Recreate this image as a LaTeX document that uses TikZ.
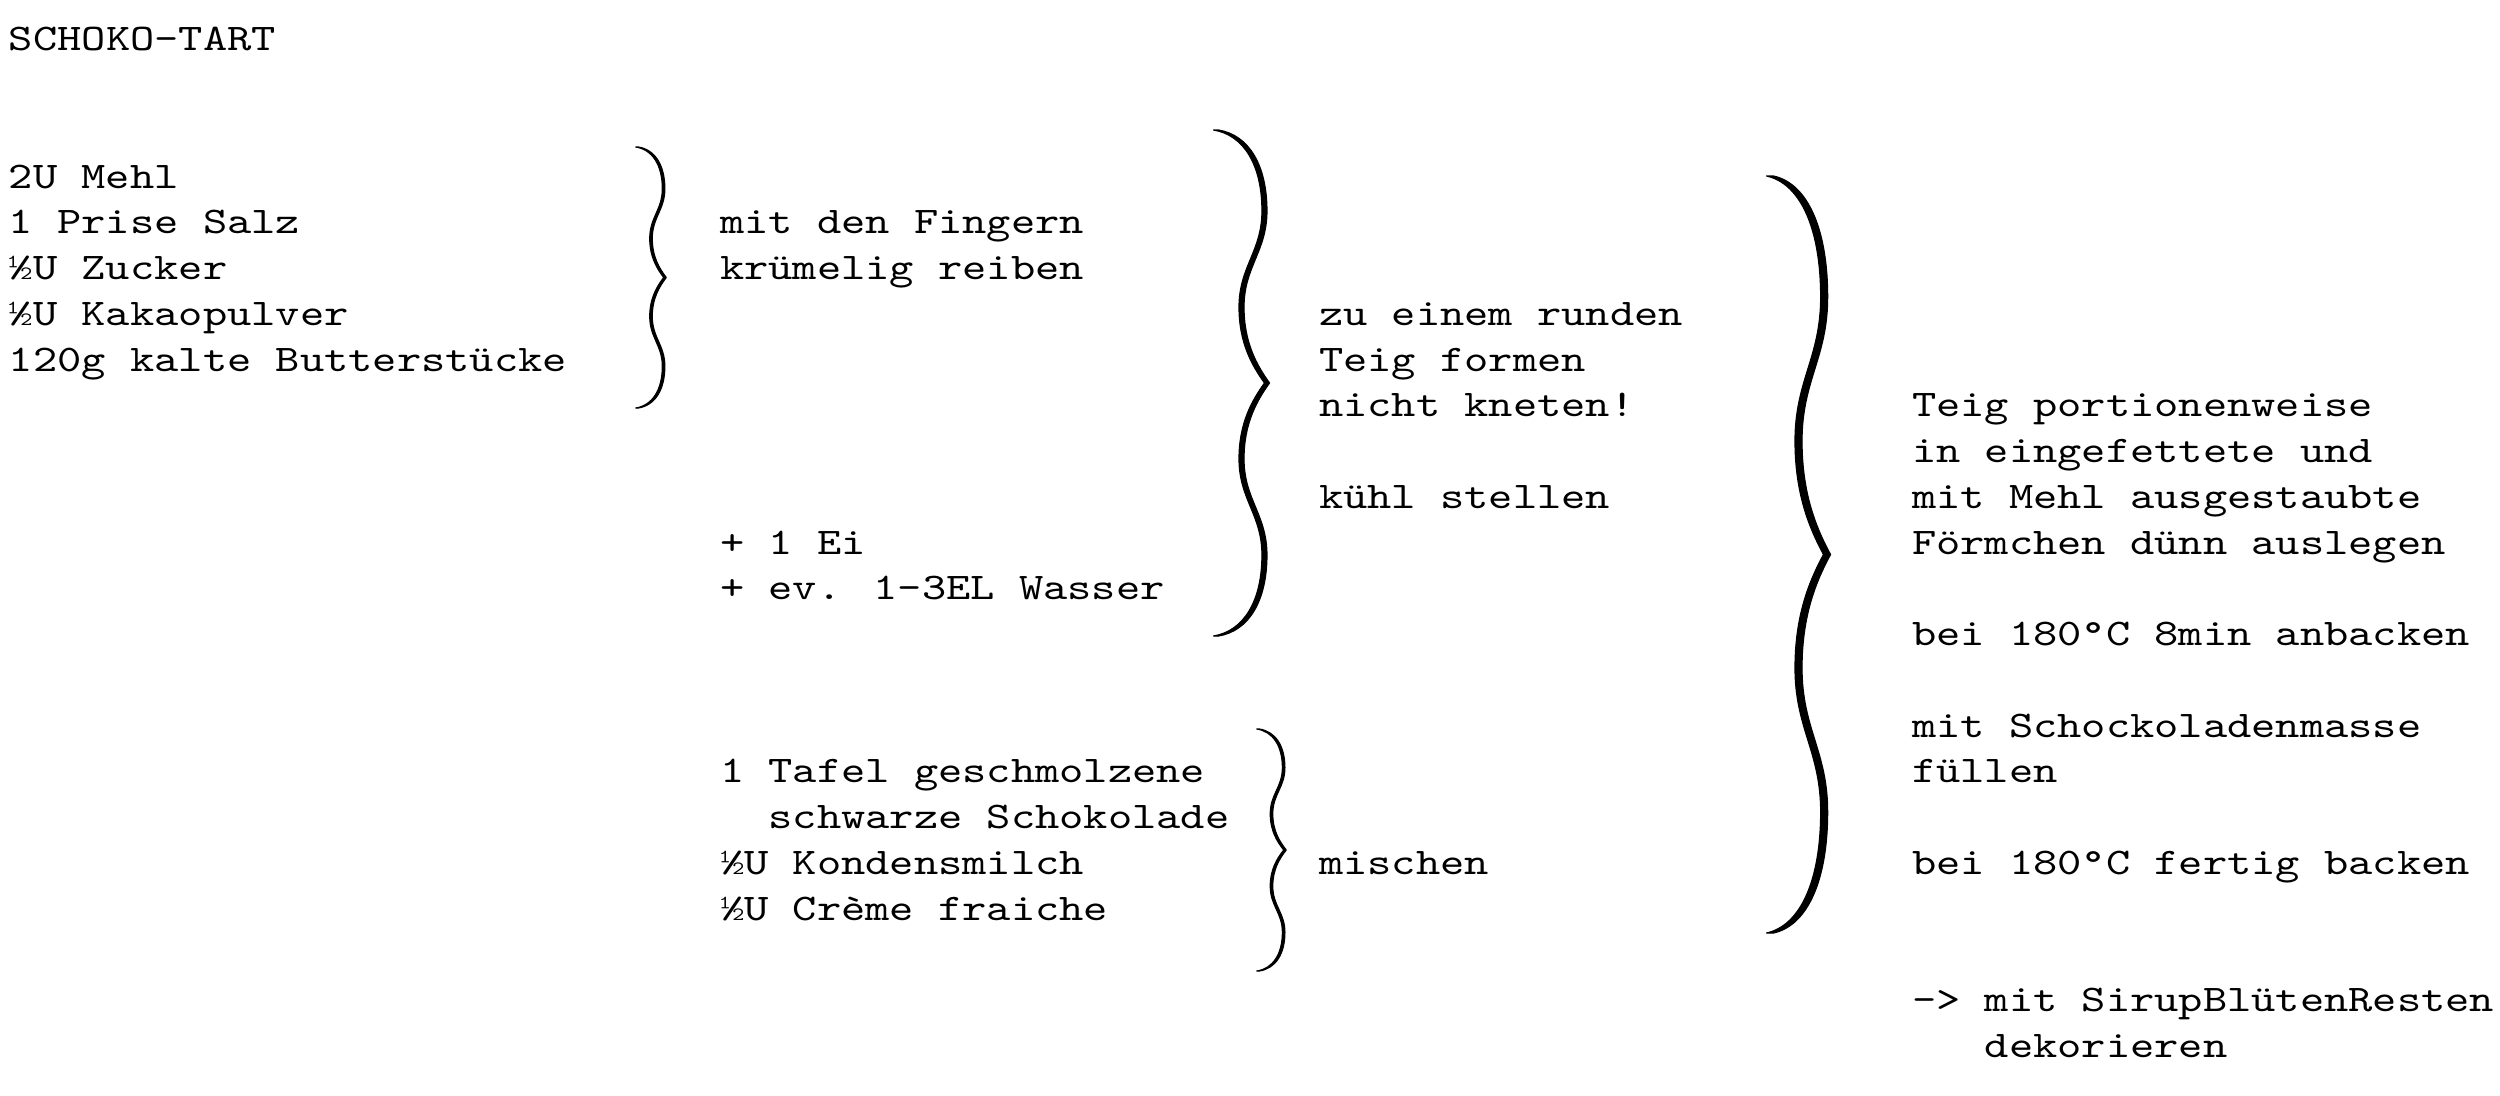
\documentclass[tikz,border=0pt]{standalone}
\usepackage{fontspec}
\setmainfont{lmmono10-regular.otf}[FakeStretch=1.229]
\newcommand\rfont{\fontsize{37.6}{45.75}\selectfont}
\newcommand\rs{\strut}
% #1 x of ends, #2 top y, #3 bottom y, #4 tip offset, #5 stroke thickness
\newcommand{\curlybrace}[5]{%
  \pgfmathsetmacro\bhn{-(#3-#2)/2}%
  \pgfmathsetmacro\bd{#5/(2*#4)}%
  \begin{scope}[shift={(#1,#2)},x=#4pt,y=\bhn pt]
    \fill[bracefill]
      (-\bd,0) .. controls (0.6-\bd,0.02) and (0.95-\bd,0.14) .. (0.95-\bd,0.32)
      .. controls (0.95-\bd,0.48) and (0.5-\bd,0.54) .. (0.5-\bd,0.7)
      .. controls (0.5-\bd,0.84) and (0.75-\bd,0.93) .. (1-\bd,1)
      .. controls (0.75-\bd,1.07) and (0.5-\bd,1.16) .. (0.5-\bd,1.3)
      .. controls (0.5-\bd,1.46) and (0.95-\bd,1.52) .. (0.95-\bd,1.68)
      .. controls (0.95-\bd,1.86) and (0.6-\bd,1.98) .. (-\bd,2)
      -- (\bd,2)
      .. controls (0.6+\bd,1.98) and (0.95+\bd,1.86) .. (0.95+\bd,1.68)
      .. controls (0.95+\bd,1.52) and (0.5+\bd,1.46) .. (0.5+\bd,1.3)
      .. controls (0.5+\bd,1.16) and (0.75+\bd,1.07) .. (1+\bd,1)
      .. controls (0.75+\bd,0.93) and (0.5+\bd,0.84) .. (0.5+\bd,0.7)
      .. controls (0.5+\bd,0.54) and (0.95+\bd,0.48) .. (0.95+\bd,0.32)
      .. controls (0.95+\bd,0.14) and (0.6+\bd,0.02) .. (\bd,0) -- cycle;
  \end{scope}}
\tikzset{
  txt/.style={anchor=north west, inner sep=0pt, outer sep=0pt, align=left, font=\rfont, text=black},
  bracefill/.style={fill=black, draw=black, line width=1.2pt, line join=round},
}
\begin{document}
\begin{tikzpicture}[x=1pt,y=-1pt]
\useasboundingbox[fill=white] (0,0) rectangle (2500,1095);
% texts (top = baseline - 32.025)
\node[txt] (title) at (9,18.725) {\rs SCHOKO-TART};
\node[txt] (ing1) at (9,155.975) {\rs 2U Mehl\\\rs 1 Prise Salz\\\rs ½U Zucker\\\rs ½U Kakaopulver\\\rs 120g kalte Butterstücke};
\node[txt] (step1) at (720,201.725) {\rs mit den Fingern\\\rs krümelig reiben};
\node[txt] (add1) at (720,521.975) {\rs + 1 Ei\\\rs + ev. 1-3EL Wasser};
\node[txt] (step2) at (1319,293.225) {\rs zu einem runden\\\rs Teig formen\\\rs nicht kneten!\\\rs\\\rs kühl stellen};
\node[txt] (ing2) at (720,750.725) {\rs 1 Tafel geschmolzene\\\rs\hphantom{xx}schwarze Schokolade\\\rs ½U Kondensmilch\\\rs ½U Crème fraiche};
\node[txt] (mix) at (1319,842.225) {\rs mischen};
\node[txt] (bake) at (1912,384.725) {\rs Teig portionenweise\\\rs in eingefettete und\\\rs mit Mehl ausgestaubte\\\rs Förmchen dünn auslegen\\\rs\\\rs bei 180°C 8min anbacken\\\rs\\\rs mit Schockoladenmasse\\\rs füllen\\\rs\\\rs bei 180°C fertig backen\\\rs\\\rs\\\rs -> mit SirupBlütenResten\\\rs\hphantom{xxx}dekorieren};
% braces
\curlybrace{637}{147}{408}{28}{2.5}
\curlybrace{1216}{130}{636}{51}{5}
\curlybrace{1258}{729}{971}{27}{2.5}
\curlybrace{1770}{176}{933}{57}{7}
\end{tikzpicture}
\end{document}
